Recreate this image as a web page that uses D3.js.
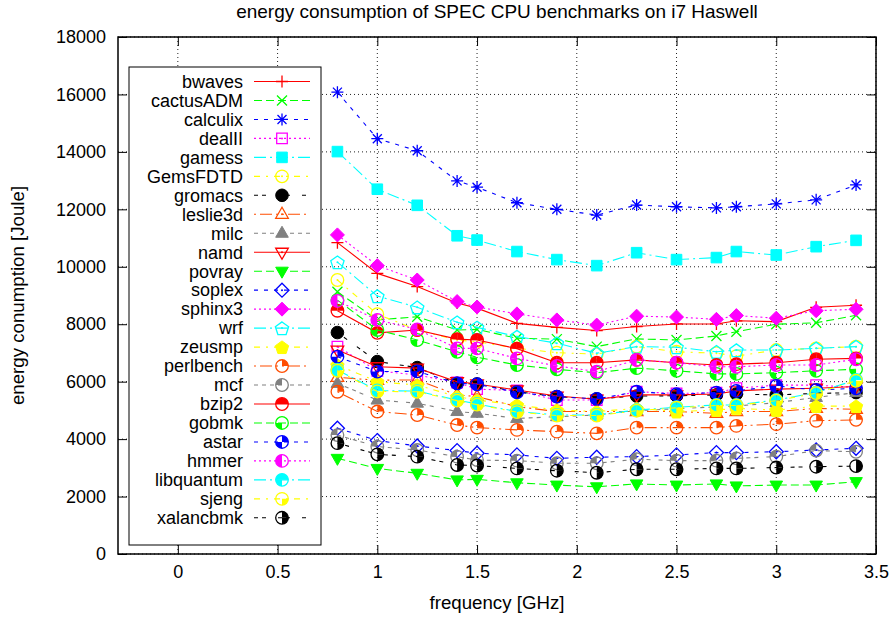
<!DOCTYPE html>
<html>
<head>
<meta charset="utf-8">
<script src="https://cdn.jsdelivr.net/npm/d3@7"></script>
<style>
body { margin: 0; background: #fff; }
svg text { font-family: "Liberation Sans", Arial, Helvetica, sans-serif; fill: #000; }
</style>
</head>
<body>
<svg id="chart" width="896" height="617"></svg>
<script>
// frequencies measured (GHz)
var freqs = [0.8, 1.0, 1.2, 1.4, 1.5, 1.7, 1.9, 2.1, 2.3, 2.5, 2.7, 2.8, 3.0, 3.2, 3.4];

var benchmarks = ["bwaves", "cactusADM", "calculix", "dealII", "gamess", "GemsFDTD", "gromacs",
    "leslie3d", "milc", "namd", "povray", "soplex", "sphinx3", "wrf", "zeusmp", "perlbench",
    "mcf", "bzip2", "gobmk", "astar", "hmmer", "libquantum", "sjeng", "xalancbmk"];

// energy in Joule, one value per frequency
var bwaves     = [10840, 9770, 9310, 8740, 8560, 8030, 7890, 7780, 7920, 8010, 8010, 8120, 8090, 8590, 8660];
var cactusADM  = [9130, 8150, 8260, 7800, 7820, 7510, 7480, 7220, 7490, 7450, 7590, 7740, 8000, 8050, 8310];
var calculix   = [16080, 14460, 14040, 12990, 12770, 12230, 12000, 11800, 12150, 12090, 12050, 12090, 12190, 12330, 12850];
var dealII     = [7220, 6380, 6230, 5970, 5740, 5690, 5360, 5360, 5650, 5590, 5620, 5770, 5880, 5880, 5800];
var gamess     = [14010, 12700, 12140, 11080, 10930, 10530, 10250, 10040, 10490, 10250, 10320, 10530, 10410, 10700, 10920];
var GemsFDTD   = [9540, 8350, 7800, 7450, 7390, 7160, 7010, 6960, 7220, 7040, 6990, 6890, 7100, 7160, 7220];
var gromacs    = [7710, 6700, 6490, 5940, 5920, 5650, 5480, 5400, 5500, 5510, 5540, 5570, 5540, 5590, 5620];
var leslie3d   = [6150, 6050, 6060, 5540, 5480, 5130, 4960, 4960, 4960, 4960, 4900, 4960, 4960, 5070, 5040];
var milc       = [5940, 5360, 5250, 4960, 4900, 4720, 4780, 4840, 4990, 5060, 5120, 5150, 5270, 5450, 5620];
var namd       = [7100, 6520, 6470, 6000, 5920, 5710, 5500, 5390, 5540, 5540, 5570, 5680, 5740, 5770, 5830];
var povray     = [3330, 2980, 2810, 2580, 2600, 2480, 2400, 2340, 2440, 2400, 2440, 2370, 2400, 2400, 2520];
var soplex     = [4380, 3950, 3760, 3600, 3510, 3450, 3330, 3370, 3390, 3450, 3530, 3530, 3560, 3620, 3680];
var sphinx3    = [11110, 10040, 9540, 8790, 8600, 8360, 8150, 7970, 8280, 8250, 8170, 8300, 8210, 8470, 8520];
var wrf        = [10160, 8980, 8590, 8070, 7890, 7570, 7340, 6990, 7220, 7200, 7040, 7100, 7100, 7160, 7220];
var zeusmp     = [6580, 6000, 5880, 5480, 5360, 5190, 5010, 4960, 5070, 4960, 5010, 5070, 5010, 5150, 5150];
var perlbench  = [5650, 4960, 4840, 4490, 4400, 4320, 4260, 4200, 4400, 4400, 4400, 4460, 4520, 4640, 4670];
var mcf        = [4140, 3740, 3620, 3390, 3270, 3250, 3160, 3160, 3300, 3250, 3250, 3330, 3390, 3600, 3560];
var bzip2      = [8470, 7700, 7800, 7480, 7450, 7150, 6660, 6660, 6760, 6660, 6580, 6610, 6660, 6780, 6810];
var gobmk      = [8840, 7800, 7450, 7040, 6850, 6580, 6430, 6310, 6470, 6380, 6270, 6270, 6310, 6380, 6430];
var astar      = [6870, 6350, 6360, 5940, 5910, 5630, 5480, 5400, 5650, 5560, 5620, 5680, 5850, 5710, 5770];
var hmmer      = [8810, 8150, 7820, 7160, 7160, 6810, 6550, 6350, 6760, 6660, 6520, 6520, 6580, 6580, 6780];
var libquantum = [6410, 5690, 5670, 5360, 5220, 4960, 4840, 4840, 5010, 5110, 5190, 5190, 5360, 5620, 6060];
var sjeng      = [6380, 5660, 5650, 5340, 5200, 4940, 4820, 4820, 4990, 5090, 5170, 5170, 5340, 5600, 6030];
var xalancbmk  = [3860, 3470, 3390, 3100, 3080, 2980, 2900, 2830, 2950, 2950, 2980, 2980, 3010, 3040, 3060];

var values = [bwaves, cactusADM, calculix, dealII, gamess, GemsFDTD, gromacs, leslie3d, milc, namd,
    povray, soplex, sphinx3, wrf, zeusmp, perlbench, mcf, bzip2, gobmk, astar, hmmer, libquantum, sjeng, xalancbmk];

var xTicks = [0, 0.5, 1, 1.5, 2, 2.5, 3, 3.5];
var yTicks = [0, 2000, 4000, 6000, 8000, 10000, 12000, 14000, 16000, 18000];

// gnuplot line types: colour + dash go together, point types in plot order
var colors = ["#ff0000", "#00ff00", "#0000ff", "#ff00ff", "#00ffff", "#ffff00", "#000000", "#ff4d00", "#808080"];
var dashes = [null, "8,4", "4,6", "2,3", "12,4,2,4", "6,6,2,6", "4,4,4,12", "2,4,12,4,2,4", "4,4,4,4,4,4,4,8"];
var lineType = [0, 1, 2, 3, 4, 5, 6, 7, 8, 0, 1, 2, 3, 4, 5, 7, 8, 0, 1, 2, 3, 4, 5, 6];
var markers = ["plus", "cross", "star", "box", "boxF", "circle", "circleF", "triU", "triUF", "triD", "triDF",
    "diamond", "diamondF", "pent", "pentF", "C1", "C2", "C3", "C4", "C5", "C6", "C7", "C8", "C9"];

var plotL = 118, plotR = 876, plotT = 37, plotB = 554;

var svg = d3.select("#chart");

var x = d3.scaleLinear().domain([-0.3, 3.5]).range([plotL, plotR]);
var y = d3.scaleLinear().domain([0, 18000]).range([plotB, plotT]);

// grid
svg.append("g").selectAll("line").data(xTicks).join("line")
    .attr("x1", d => x(d)).attr("x2", d => x(d))
    .attr("y1", plotT).attr("y2", plotB)
    .attr("stroke", "#222").attr("stroke-width", 1).attr("stroke-dasharray", "1,3");
svg.append("g").selectAll("line").data(yTicks).join("line")
    .attr("x1", plotL).attr("x2", plotR)
    .attr("y1", d => y(d)).attr("y2", d => y(d))
    .attr("stroke", "#222").attr("stroke-width", 1).attr("stroke-dasharray", "1,3");

// axes, ticks point inward like gnuplot
function styleAxis(g) {
    g.select(".domain").remove();
    g.selectAll(".tick line").attr("stroke", "#000").attr("stroke-width", 1);
    g.selectAll("text").style("font-size", "18px").attr("fill", "#000");
}

svg.append("g").attr("transform", "translate(0," + plotB + ")")
    .call(d3.axisBottom(x).tickValues(xTicks).tickSizeInner(-9).tickSizeOuter(0).tickPadding(11)
        .tickFormat(d3.format("~g")))
    .call(styleAxis);
svg.append("g").attr("transform", "translate(0," + plotT + ")")
    .call(d3.axisTop(x).tickValues(xTicks).tickSizeInner(-9).tickSizeOuter(0).tickFormat(""))
    .call(styleAxis);
svg.append("g").attr("transform", "translate(" + plotL + ",0)")
    .call(d3.axisLeft(y).tickValues(yTicks).tickSizeInner(-9).tickSizeOuter(0).tickPadding(12)
        .tickFormat(d3.format("d")))
    .call(styleAxis);
svg.append("g").attr("transform", "translate(" + plotR + ",0)")
    .call(d3.axisRight(y).tickValues(yTicks).tickSizeInner(-9).tickSizeOuter(0).tickFormat(""))
    .call(styleAxis);

// legend box (opaque, drawn over grid)
var legend = svg.append("g");
legend.append("rect")
    .attr("x", 129).attr("y", 67).attr("width", 192).attr("height", 478)
    .attr("fill", "#fff").attr("stroke", "#000").attr("stroke-width", 1);

// frame
svg.append("rect")
    .attr("x", plotL).attr("y", plotT).attr("width", plotR - plotL).attr("height", plotB - plotT)
    .attr("fill", "none").attr("stroke", "#000").attr("stroke-width", 1.5);

var arc = d3.arc().innerRadius(0).outerRadius(6.3);
var quads = [[1, 0, Math.PI / 2], [2, Math.PI * 1.5, Math.PI * 2], [4, Math.PI, Math.PI * 1.5], [8, Math.PI / 2, Math.PI]];

function polygon(pts) {
    return "M" + pts.map(p => p[0].toFixed(2) + "," + p[1].toFixed(2)).join("L") + "Z";
}
function pentagon(r) {
    var pts = [];
    for (var k = 0; k < 5; k++) {
        var a = -Math.PI / 2 + k * 2 * Math.PI / 5;
        pts.push([r * Math.cos(a), r * Math.sin(a) + 0.8]);
    }
    return polygon(pts);
}

function addMarker(g, type, cx, cy, color) {
    var m = g.append("g").attr("transform", "translate(" + cx + "," + cy + ")");
    function stroke(d) {
        m.append("path").attr("d", d).attr("fill", "none").attr("stroke", color).attr("stroke-width", 1.3);
    }
    function fill(d) {
        m.append("path").attr("d", d).attr("fill", color).attr("stroke", color).attr("stroke-width", 1);
    }
    function dot() {
        m.append("circle").attr("r", 1).attr("fill", color);
    }
    var box = polygon([[-5.3, -5.3], [5.3, -5.3], [5.3, 5.3], [-5.3, 5.3]]);
    var triU = polygon([[0, -7], [6.3, 4], [-6.3, 4]]);
    var triD = polygon([[0, 7], [6.3, -4], [-6.3, -4]]);
    var dia = polygon([[0, -7], [7, 0], [0, 7], [-7, 0]]);
    var circ = "M6.3,0A6.3,6.3 0 1,1 -6.3,0A6.3,6.3 0 1,1 6.3,0Z";
    if (type == "plus") stroke("M-6,0H6M0,-6V6");
    else if (type == "cross") stroke("M-5,-5L5,5M-5,5L5,-5");
    else if (type == "star") stroke("M-6,0H6M0,-6V6M-4.5,-4.5L4.5,4.5M-4.5,4.5L4.5,-4.5");
    else if (type == "box") { stroke(box); dot(); }
    else if (type == "boxF") fill(box);
    else if (type == "circle") { stroke(circ); dot(); }
    else if (type == "circleF") fill(circ);
    else if (type == "triU") { stroke(triU); dot(); }
    else if (type == "triUF") fill(triU);
    else if (type == "triD") { stroke(triD); dot(); }
    else if (type == "triDF") fill(triD);
    else if (type == "diamond") { stroke(dia); dot(); }
    else if (type == "diamondF") fill(dia);
    else if (type == "pent") { stroke(pentagon(7)); dot(); }
    else if (type == "pentF") fill(pentagon(7));
    else {
        var mask = +type.slice(1);
        quads.forEach(function (q) {
            if (mask & q[0]) {
                m.append("path").attr("d", arc({startAngle: q[1], endAngle: q[2]})).attr("fill", color);
            }
        });
        stroke(circ);
    }
}

var line = d3.line()
    .x((d, i) => x(freqs[i]))
    .y(d => y(d));

// series: line then points, in plot order
values.forEach(function (vals, i) {
    var color = colors[lineType[i]];
    var dash = dashes[lineType[i]];
    var g = svg.append("g");
    g.append("path").datum(vals)
        .attr("d", line)
        .attr("fill", "none")
        .attr("stroke", color)
        .attr("stroke-width", 1.1)
        .attr("stroke-dasharray", dash);
    vals.forEach(function (v, j) {
        addMarker(g, markers[i], x(freqs[j]), y(v), color);
    });

    // legend entry
    var ly = 81.5 + i * 18.97;
    legend.append("text")
        .attr("x", 243).attr("y", ly).attr("dy", "0.35em")
        .attr("text-anchor", "end")
        .style("font-size", "18px")
        .text(benchmarks[i]);
    legend.append("line")
        .attr("x1", 254).attr("x2", 310).attr("y1", ly).attr("y2", ly)
        .attr("stroke", color).attr("stroke-width", 1.1)
        .attr("stroke-dasharray", dash);
    addMarker(legend, markers[i], 282, ly, color);
});

// titles
svg.append("text")
    .attr("x", (plotL + plotR) / 2).attr("y", 18)
    .attr("text-anchor", "middle")
    .style("font-size", "19px")
    .text("energy consumption of SPEC CPU benchmarks on i7 Haswell");

svg.append("text")
    .attr("x", (plotL + plotR) / 2).attr("y", 609)
    .attr("text-anchor", "middle")
    .style("font-size", "18.7px")
    .text("frequency [GHz]");

svg.append("text")
    .attr("transform", "translate(24," + ((plotT + plotB) / 2) + ") rotate(-90)")
    .attr("text-anchor", "middle")
    .style("font-size", "18.7px")
    .text("energy conumption [Joule]");
</script>
</body>
</html>
